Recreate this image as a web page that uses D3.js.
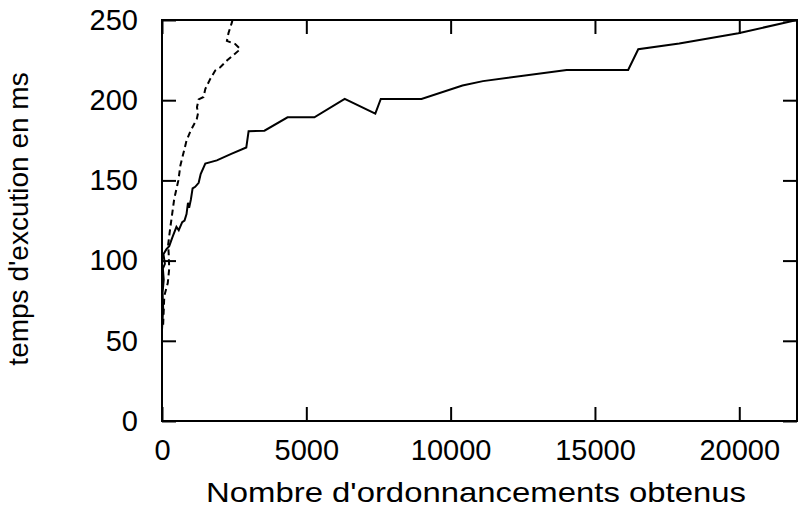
<!DOCTYPE html>
<html>
<head>
<meta charset="utf-8">
<script src="https://cdn.jsdelivr.net/npm/d3@7"></script>
<style>
  html, body { margin: 0; padding: 0; background: #fff; }
  svg { display: block; }
  text { font-family: "Liberation Sans", Arial, Helvetica, sans-serif; fill: #000; }
</style>
</head>
<body>
<svg id="chart" width="798" height="510"></svg>
<script>
// ---- data ----
const xTicks = [0, 5000, 10000, 15000, 20000];
const yTicks = [0, 50, 100, 150, 200, 250];
const xTitle = "Nombre d'ordonnancements obtenus";
const yTitle = "temps d'excution en ms";

// solid series: number of schedules obtained vs execution time (ms)
const solidX = [0, 40, 20, 60, 30, 100, 50, 150, 250, 350, 500, 580, 700, 780, 850, 900, 940, 1000, 1060, 1150, 1270, 1340, 1500, 1900, 2400, 2920, 3000, 3550, 4350, 5280, 6330, 7390, 7580, 8990, 10410, 11120, 14020, 16150, 16500, 17920, 19970, 22000];
const solidY = [57, 70, 80, 88, 95, 98, 104, 107, 109, 114, 121, 119, 124, 125, 129, 136, 133, 138, 145, 146, 148.5, 154, 160.5, 162.5, 166.5, 170.5, 180.6, 181, 189.3, 189.3, 200.8, 191.6, 200.8, 200.8, 209.2, 211.9, 218.8, 218.8, 231.8, 235.4, 241.8, 250];

// dashed series
const dashX = [40, 80, 200, 250, 230, 212, 283, 425, 567, 637, 779, 850, 992, 1204, 1250, 1211, 1270, 1440, 1500, 1672, 1845, 2018, 2249, 2652, 2710, 2537, 2249, 2306, 2422, 2520];
const dashY = [60, 78, 86, 95, 105, 109.7, 120, 138.6, 150, 159.3, 169.6, 174.8, 181, 188.2, 192, 195.6, 200.5, 202, 207, 213.3, 218.5, 220.5, 224.7, 230.9, 232, 235, 237, 242, 248.5, 256];

// ---- layout ----
const L = 162, R = 797, T = 20, B = 421;
const svg = d3.select("#chart");
const x = d3.scaleLinear().domain([0, 22000]).range([L, R]);
const y = d3.scaleLinear().domain([0, 250]).range([B, T]);
const tickLen = 14;
const tickFont = 29;
const titleFont = 28;

svg.append("defs").append("clipPath").attr("id", "clip")
  .append("rect").attr("x", L).attr("y", T).attr("width", R - L).attr("height", B - T);

// border
svg.append("rect").attr("x", L).attr("y", T).attr("width", R - L).attr("height", B - T)
  .attr("fill", "none").attr("stroke", "#000").attr("stroke-width", 2);

// axes (ticks inward, mirrored)
const gx = svg.append("g").attr("transform", `translate(0,${B})`)
  .call(d3.axisBottom(x).tickValues(xTicks).tickSize(-tickLen).tickPadding(18).tickFormat(d3.format("d")));
const gxt = svg.append("g").attr("transform", `translate(0,${T})`)
  .call(d3.axisTop(x).tickValues(xTicks).tickSize(-tickLen).tickFormat(""));
const gy = svg.append("g").attr("transform", `translate(${L},0)`)
  .call(d3.axisLeft(y).tickValues(yTicks).tickSize(-tickLen).tickPadding(24).tickFormat(d3.format("d")));
const gyr = svg.append("g").attr("transform", `translate(${R},0)`)
  .call(d3.axisRight(y).tickValues(yTicks).tickSize(-tickLen).tickFormat(""));
[gx, gxt, gy, gyr].forEach(g => {
  g.select(".domain").remove();
  g.selectAll(".tick line").attr("stroke", "#000").attr("stroke-width", 2);
  g.selectAll("text").attr("font-size", tickFont).attr("font-family", null).attr("fill", "#000");
});

// lines
const line = d3.line().x(d => x(d[0])).y(d => y(d[1]));
const solid = solidX.map((v, i) => [v, solidY[i]]);
const dashed = dashX.map((v, i) => [v, dashY[i]]);
const lg = svg.append("g").attr("clip-path", "url(#clip)");
lg.append("path").datum(solid).attr("d", line)
  .attr("fill", "none").attr("stroke", "#000").attr("stroke-width", 2);
lg.append("path").datum(dashed).attr("d", line)
  .attr("fill", "none").attr("stroke", "#000").attr("stroke-width", 2).attr("stroke-dasharray", "6,4");

// titles
svg.append("text").attr("x", 206).attr("y", 502).attr("text-anchor", "start")
  .attr("font-size", titleFont).attr("textLength", 540).attr("lengthAdjust", "spacingAndGlyphs")
  .text(xTitle);
svg.append("text").attr("transform", `translate(28,219) rotate(-90)`).attr("text-anchor", "middle")
  .attr("font-size", titleFont).text(yTitle);
</script>
</body>
</html>
